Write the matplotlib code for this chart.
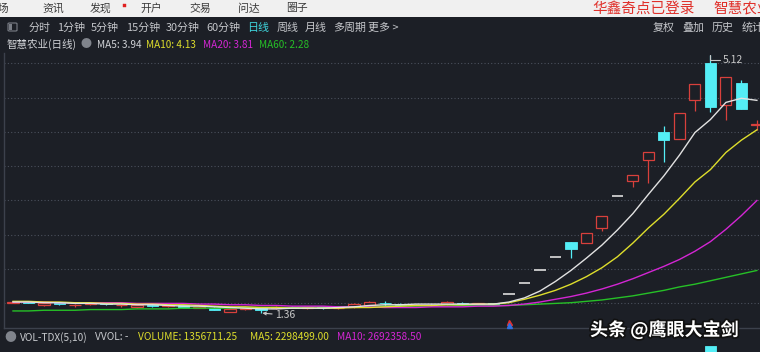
import matplotlib
matplotlib.use('Agg')
import matplotlib.pyplot as plt
from matplotlib.patches import Rectangle, FancyBboxPatch
import matplotlib.patheffects as pe

plt.rcParams['font.family'] = ['Noto Sans CJK SC', 'DejaVu Sans']

# ---------------- data ----------------
opens = [1.51, 1.52, 1.47, 1.50, 1.47, 1.49, 1.50, 1.47, 1.45, 1.47, 1.46, 1.47, 1.44, 1.44, 1.38, 1.42,
         1.43, 1.43, 1.45, 1.43, 1.45, 1.43, 1.45, 1.47, 1.51, 1.49, 1.47, 1.48, 1.49, 1.51, 1.49, 1.50,
         1.64, 1.80, 1.98, 2.18, 2.39, 2.38, 2.60, 3.06, 3.28, 3.59, 4.00, 3.90, 4.47, 5.00, 4.39, 4.71, 4.10]
highs = [1.53, 1.53, 1.51, 1.51, 1.49, 1.51, 1.51, 1.49, 1.48, 1.48, 1.48, 1.48, 1.46, 1.45, 1.43, 1.45,
         1.43, 1.46, 1.46, 1.46, 1.46, 1.45, 1.50, 1.53, 1.54, 1.50, 1.49, 1.49, 1.53, 1.52, 1.51, 1.51,
         1.64, 1.80, 1.98, 2.18, 2.40, 2.53, 2.78, 3.06, 3.37, 3.71, 4.08, 4.27, 4.70, 5.12, 4.80, 4.76, 4.17]
lows = [1.50, 1.50, 1.46, 1.48, 1.45, 1.48, 1.48, 1.45, 1.44, 1.45, 1.45, 1.43, 1.43, 1.40, 1.37, 1.41,
        1.36, 1.42, 1.43, 1.42, 1.42, 1.42, 1.44, 1.46, 1.45, 1.46, 1.46, 1.46, 1.48, 1.48, 1.48, 1.48,
        1.64, 1.80, 1.98, 2.18, 2.16, 2.38, 2.56, 3.06, 3.20, 3.25, 3.56, 3.90, 4.30, 4.29, 4.17, 4.33, 4.03]
closes = [1.52, 1.51, 1.50, 1.49, 1.48, 1.50, 1.49, 1.48, 1.47, 1.46, 1.47, 1.44, 1.45, 1.41, 1.42, 1.43,
          1.40, 1.45, 1.44, 1.45, 1.43, 1.44, 1.49, 1.52, 1.50, 1.47, 1.48, 1.47, 1.52, 1.49, 1.50, 1.49,
          1.64, 1.80, 1.98, 2.18, 2.30, 2.53, 2.78, 3.06, 3.37, 3.71, 3.88, 4.27, 4.70, 4.36, 4.80, 4.33, 4.12]

ma5 = [1.52, 1.52, 1.51, 1.51, 1.50, 1.50, 1.49, 1.49, 1.48, 1.48, 1.47, 1.46, 1.46, 1.45, 1.44, 1.43,
       1.42, 1.42, 1.43, 1.43, 1.43, 1.44, 1.45, 1.47, 1.48, 1.48, 1.49, 1.49, 1.49, 1.49, 1.49, 1.49,
       1.52, 1.58, 1.68, 1.82, 1.98, 2.16, 2.35, 2.57, 2.81, 3.09, 3.36, 3.66, 3.99, 4.18, 4.43, 4.49, 4.46]
ma10 = [1.53, 1.53, 1.52, 1.52, 1.51, 1.51, 1.50, 1.50, 1.49, 1.49, 1.48, 1.48, 1.47, 1.46, 1.45, 1.45,
        1.44, 1.44, 1.43, 1.43, 1.43, 1.43, 1.44, 1.44, 1.45, 1.46, 1.47, 1.47, 1.48, 1.48, 1.49, 1.49,
        1.51, 1.56, 1.62, 1.69, 1.78, 1.89, 2.02, 2.18, 2.38, 2.60, 2.80, 3.03, 3.27, 3.45, 3.70, 3.88, 4.03]
ma20 = [1.52, 1.52, 1.52, 1.51, 1.51, 1.51, 1.51, 1.51, 1.50, 1.50, 1.50, 1.50, 1.49, 1.49, 1.48, 1.48,
        1.47, 1.47, 1.46, 1.46, 1.46, 1.45, 1.45, 1.45, 1.44, 1.44, 1.44, 1.45, 1.45, 1.45, 1.46, 1.46,
        1.47, 1.49, 1.52, 1.56, 1.60, 1.65, 1.71, 1.78, 1.86, 1.95, 2.04, 2.14, 2.26, 2.40, 2.58, 2.78, 3.00]
ma60 = [1.39, 1.39, 1.40, 1.40, 1.40, 1.41, 1.41, 1.41, 1.42, 1.42, 1.42, 1.43, 1.43, 1.43, 1.43, 1.44,
        1.44, 1.44, 1.44, 1.45, 1.45, 1.45, 1.45, 1.45, 1.46, 1.46, 1.46, 1.46, 1.46, 1.47, 1.47, 1.47,
        1.47, 1.48, 1.49, 1.50, 1.51, 1.53, 1.55, 1.58, 1.61, 1.65, 1.69, 1.74, 1.78, 1.83, 1.88, 1.93, 1.98]

volumes = [30, 25, 28, 22, 26, 24, 20, 22, 25, 21, 19, 24, 20, 28, 30, 22,
           32, 26, 20, 18, 22, 19, 35, 40, 30, 22, 20, 18, 28, 22, 20, 19,
           4, 5, 6, 9, 150, 120, 140, 25, 180, 210, 260, 230, 280, 420, 360, 300, 250]

grid_levels = [1.5, 2.0, 2.5, 3.0, 3.5, 4.0, 4.5, 5.0]
signal_bar = [32]
signal_up = [1.235]
signal_dn = [1.18]

top_menu = ["市场", "资讯", "发现", "开户", "交易", "问达", "圈子"]
periods = ["分时", "1分钟", "5分钟", "15分钟", "30分钟", "60分钟", "日线", "周线", "月线", "多周期", "更多 >"]
right_tools = ["复权", "叠加", "历史", "统计"]

# ---------------- style ----------------
W, H = 760, 352
BG = '#1c1f26'
RED = '#d8403c'
CYAN = '#54eef6'
DASH = '#cfcfcf'
GRID = '#4a505c'
C_MA5, C_MA10, C_MA20, C_MA60 = '#e2e2e2', '#dede2c', '#d426d4', '#26c026'


def fx(x):
    return x / W


def fy(y):
    return 1 - y / H


def price_at(y):
    return 5.0 - (y - 63.3) / 68.6


fig = plt.figure(figsize=(7.6, 3.52), dpi=100, facecolor=BG)

# top light menu bar
fig.patches.append(Rectangle((0, fy(17)), 1, 17 / H, transform=fig.transFigure,
                             facecolor='#f0f0f0', edgecolor='none', zorder=0))
menu_x = [-13, 42, 90, 140, 189, 238, 286]
for t, x in zip(top_menu, menu_x):
    fig.text(fx(x), fy(8.5), t, fontsize=7.8, color='#3a3a3a', ha='left', va='center')
fig.patches.append(Rectangle((fx(123), fy(7)), 3.2 / W, 3.2 / H, transform=fig.transFigure,
                             facecolor='#e02020', edgecolor='#e02020', lw=0.3))
fig.text(fx(592), fy(8.5), "华鑫奇点已登录", fontsize=10.5, color='#e0302a', ha='left', va='center')
fig.text(fx(713), fy(8.5), "智慧农业", fontsize=10.5, color='#e0302a', ha='left', va='center')

# toolbar
fig.patches.append(FancyBboxPatch((fx(8), fy(31)), 9 / W, 8 / H, transform=fig.transFigure,
                                  boxstyle='round,pad=0,rounding_size=0.002',
                                  facecolor='none', edgecolor='#7a7e86', lw=0.8))
fig.patches.append(Rectangle((fx(9), fy(30)), 3 / W, 6 / H, transform=fig.transFigure,
                             facecolor='#7a7e86', edgecolor='none'))
period_x = [29, 57, 91, 126, 166, 206, 247, 277, 305, 333, 368]
for t, x in zip(periods, period_x):
    fig.text(fx(x), fy(27.5), t, fontsize=7.9, ha='left', va='center',
             color=('#3fd6de' if t == "日线" else '#c4c6ca'))
for t, x in zip(right_tools, [653, 682, 712, 742]):
    fig.text(fx(x), fy(27.5), t, fontsize=7.9, ha='left', va='center', color='#c4c6ca')

# MA header
fig.text(fx(7), fy(44.5), "智慧农业(日线)", fontsize=7.6, ha='left', va='center', color='#d0d2d6')
fig.text(fx(86), fy(44.5), "●", fontsize=8, ha='center', va='center', color='#80848c')
fig.text(fx(97), fy(44.5), "MA5: 3.94", fontsize=7.2, ha='left', va='center', color='#d0d2d6')
fig.text(fx(146), fy(44.5), "MA10: 4.13", fontsize=7.2, ha='left', va='center', color=C_MA10)
fig.text(fx(203), fy(44.5), "MA20: 3.81", fontsize=7.2, ha='left', va='center', color=C_MA20)
fig.text(fx(259), fy(44.5), "MA60: 2.28", fontsize=7.2, ha='left', va='center', color=C_MA60)

# ---------------- main price axes ----------------
ax = fig.add_axes([fx(4), fy(328), (760 - 4) / W, (328 - 53) / H])
ax.set_facecolor(BG)
ax.set_xlim(-0.58, 48.2)
ax.set_ylim(price_at(328), price_at(53))
ax.set_yticks(grid_levels)
ax.set_xticks([])
ax.tick_params(left=False, labelleft=False)
ax.grid(axis='y', color=GRID, linestyle=(0, (1, 2)), linewidth=0.8)
for s in ['top', 'right']:
    ax.spines[s].set_visible(False)
ax.spines['left'].set_color('#3c414c')
ax.spines['bottom'].set_color('#3c414c')
ax.spines['left'].set_linewidth(1.0)
ax.spines['bottom'].set_linewidth(1.0)

bw = 0.72
for i, (o, h, l, c) in enumerate(zip(opens, highs, lows, closes)):
    if o == h == l == c:
        ax.hlines(c, i - bw / 2, i + bw / 2, color=DASH, lw=1.3, zorder=2)
    elif c >= o:
        ax.vlines(i, l, o, color=RED, lw=0.9, zorder=2)
        ax.vlines(i, c, h, color=RED, lw=0.9, zorder=2)
        ax.add_patch(Rectangle((i - bw / 2, o), bw, max(c - o, 0.004), facecolor=BG,
                               edgecolor=RED, lw=0.9, zorder=2))
    else:
        ax.vlines(i, l, h, color=CYAN, lw=0.9, zorder=2)
        ax.add_patch(Rectangle((i - bw / 2, c), bw, o - c, facecolor=CYAN,
                               edgecolor=CYAN, lw=0.6, zorder=2))

idx = list(range(len(closes)))
ax.plot(idx, ma60, color=C_MA60, lw=1.0, zorder=3)
ax.plot(idx, ma20, color=C_MA20, lw=1.0, zorder=3)
ax.plot(idx, ma10, color=C_MA10, lw=1.0, zorder=3)
ax.plot(idx, ma5, color=C_MA5, lw=1.0, zorder=3)

hi_i = highs.index(max(highs))
lo_i = lows.index(min(lows))
ax.annotate(f"{max(highs):.2f}", xy=(hi_i, max(highs)), xytext=(9, -3.5), textcoords='offset points',
            fontsize=7.5, color='#c8c8c8', ha='left', va='center',
            arrowprops=dict(arrowstyle='-', color='#c8c8c8', lw=0.8, shrinkA=0, shrinkB=0,
                            connectionstyle='angle,angleA=0,angleB=90,rad=0'))
ax.annotate(f"{min(lows):.2f}", xy=(lo_i, min(lows)), xytext=(10, -1.5), textcoords='offset points',
            fontsize=7.5, color='#c8c8c8', ha='left', va='center',
            arrowprops=dict(arrowstyle='->', color='#c8c8c8', lw=0.8, shrinkA=0, shrinkB=1,
                            mutation_scale=5))

ax.plot(signal_bar, signal_up, marker='^', ms=3.6, color='#e03030', ls='none', clip_on=False, zorder=4)
ax.plot(signal_bar, signal_dn, marker='^', ms=3.6, color='#3070e0', ls='none', clip_on=False, zorder=4)

# ---------------- volume pane ----------------
fig.text(fx(10.5), fy(337.5), "●", fontsize=8.5, ha='center', va='center', color='#80848c')
fig.text(fx(20), fy(337.5), "VOL-TDX(5,10)", fontsize=7.3, ha='left', va='center', color='#c8cace')
fig.text(fx(95), fy(337.5), "VVOL: -", fontsize=7.3, ha='left', va='center', color='#c8cace')
fig.text(fx(138), fy(337.5), "VOLUME: 1356711.25", fontsize=7.3, ha='left', va='center', color=C_MA10)
fig.text(fx(250), fy(337.5), "MA5: 2298499.00", fontsize=7.3, ha='left', va='center', color=C_MA10)
fig.text(fx(337), fy(337.5), "MA10: 2692358.50", fontsize=7.3, ha='left', va='center', color=C_MA20)

vax = fig.add_axes([fx(4), fy(440), (760 - 4) / W, (440 - 343) / H])
vax.set_facecolor('none')
vax.set_xlim(-0.58, 48.2)
vax.set_ylim(0, max(volumes) * 1.03)
vax.axis('off')
for i, (o, c, v) in enumerate(zip(opens, closes, volumes)):
    if c >= o:
        vax.add_patch(Rectangle((i - bw / 2, 0), bw, v, facecolor=BG, edgecolor=RED, lw=0.9))
    else:
        vax.add_patch(Rectangle((i - bw / 2, 0), bw, v, facecolor=CYAN, edgecolor=CYAN, lw=0.6))

# watermark
fig.text(fx(590), fy(330), "头条 @鹰眼大宝剑", fontsize=13, fontweight='bold', color='white',
         ha='left', va='center',
         path_effects=[pe.withStroke(linewidth=2.5, foreground='#111111')])

fig.savefig('out.png', dpi=100, facecolor=BG)
